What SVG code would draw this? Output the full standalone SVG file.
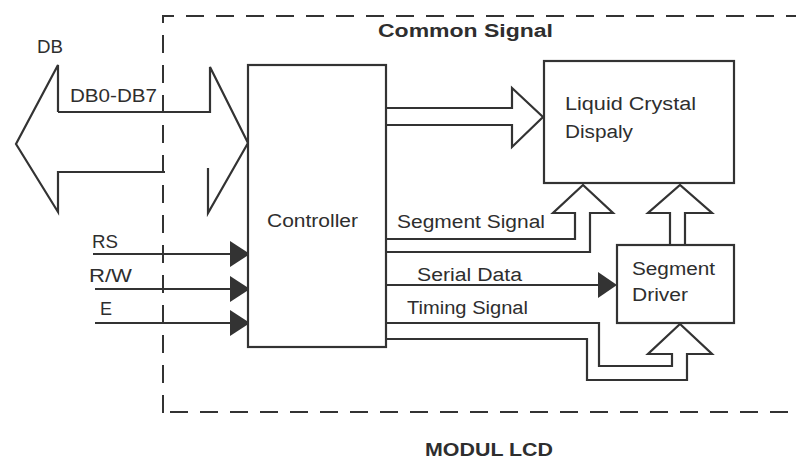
<svg xmlns="http://www.w3.org/2000/svg" width="796" height="463" viewBox="0 0 796 463">
<style>
.ln{fill:none;stroke:#333;stroke-width:2.2;stroke-linejoin:miter}
.bx{fill:#fff;stroke:#333;stroke-width:2.2}
.ds{fill:none;stroke:#333;stroke-width:2;stroke-dasharray:18 12}
.tri{fill:#333;stroke:none}
.t{font-family:"Liberation Sans",Arial,sans-serif;font-size:18px;fill:#2e2e2e}
.b{font-family:"Liberation Sans",Arial,sans-serif;font-size:18px;font-weight:bold;fill:#2e2e2e}
</style>
<rect width="796" height="463" fill="#fff"/>
<g id="module-border">
<path class="ds" d="M163,413 V16 H796"/>
<path class="ds" d="M170,412 H796"/>
<text class="b" x="378" y="37" textLength="175" lengthAdjust="spacingAndGlyphs">Common Signal</text>
<text class="b" x="425" y="456" textLength="128" lengthAdjust="spacingAndGlyphs">MODUL LCD</text>
</g>
<g id="connectors">
<path id="db-bus" class="ln" d="M58,112 H210 V67 L248,143 L208,213 V168 M165,172 H58 V212 L16,144 L58,65 V112"/>
<path id="common-signal" class="ln" d="M386,108 H512 V88 L543,117 L512,147 V125 H386"/>
<path id="segment-signal" class="ln" d="M386,239 H575 V213 H553 L583,185 L613,213 H590 V252 H386"/>
<path id="driver-to-lcd" class="ln" d="M670,245 V213 H648 L680,185 L712,213 H685 V245"/>
<path id="timing-signal" class="ln" d="M386,323 H599 V366 H672 V354 H648 L680,324 L712,354 H687 V380 H587 V339 H386"/>
<path id="serial-data" class="ln" d="M386,285 H600"/>
<polygon class="tri" points="598,272 617,285 598,298"/>
<path id="rs" class="ln" d="M93,254 H232"/>
<polygon class="tri" points="230,241 250,254 230,267"/>
<path id="rw" class="ln" d="M95,289 H232"/>
<polygon class="tri" points="230,276 250,289 230,302"/>
<path id="e" class="ln" d="M95,323 H232"/>
<polygon class="tri" points="230,310 250,323 230,336"/>
</g>
<g id="labels">
<text class="t" x="37" y="53" textLength="26" lengthAdjust="spacingAndGlyphs">DB</text>
<text class="t" x="70" y="102" textLength="87" lengthAdjust="spacingAndGlyphs">DB0-DB7</text>
<text class="t" x="397" y="228" textLength="148" lengthAdjust="spacingAndGlyphs">Segment Signal</text>
<text class="t" x="417" y="281" textLength="105" lengthAdjust="spacingAndGlyphs">Serial Data</text>
<text class="t" x="407" y="314" textLength="121" lengthAdjust="spacingAndGlyphs">Timing Signal</text>
<text class="t" x="92" y="248" textLength="26" lengthAdjust="spacingAndGlyphs">RS</text>
<text class="t" x="89" y="282" textLength="43" lengthAdjust="spacingAndGlyphs">R/W</text>
<text class="t" x="100" y="315" textLength="12" lengthAdjust="spacingAndGlyphs">E</text>
</g>
<g id="controller">
<rect class="bx" x="248" y="65" width="138" height="282"/>
<text class="t" x="267" y="227" textLength="91" lengthAdjust="spacingAndGlyphs">Controller</text>
</g>
<g id="lcd">
<rect class="bx" x="544" y="61" width="190" height="122"/>
<text class="t" x="565" y="110" textLength="131" lengthAdjust="spacingAndGlyphs">Liquid Crystal</text>
<text class="t" x="565" y="138" textLength="68" lengthAdjust="spacingAndGlyphs">Dispaly</text>
</g>
<g id="segment-driver">
<rect class="bx" x="617" y="245" width="117" height="78"/>
<text class="t" x="632" y="275" textLength="83" lengthAdjust="spacingAndGlyphs">Segment</text>
<text class="t" x="632" y="301" textLength="56" lengthAdjust="spacingAndGlyphs">Driver</text>
</g>
</svg>
